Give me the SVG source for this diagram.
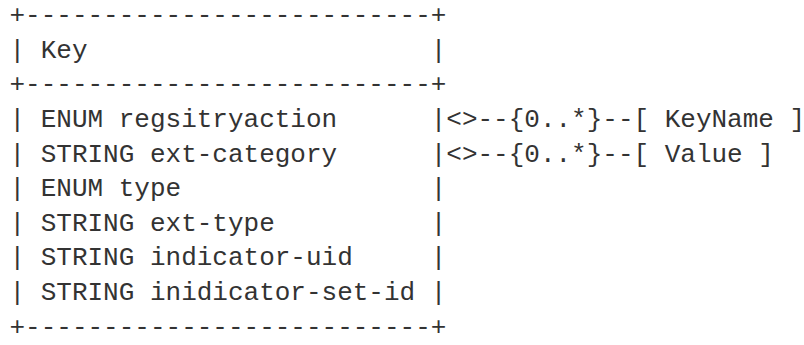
<svg xmlns="http://www.w3.org/2000/svg" width="804" height="345" viewBox="0 0 804 345">
<style>
text{font-family:"Liberation Mono","DejaVu Sans Mono",monospace;font-size:26px;fill:#333;white-space:pre}
</style>
<rect width="804" height="345" fill="#fff"/>
<g id="key">
<text x="9.5" y="23.2" xml:space="preserve">+--------------------------+</text>
<text x="9.5" y="57.8" xml:space="preserve">| Key                      |</text>
<text x="9.5" y="92.4" xml:space="preserve">+--------------------------+</text>
<text x="9.5" y="127" xml:space="preserve">| ENUM regsitryaction      |</text>
<text x="9.5" y="161.6" xml:space="preserve">| STRING ext-category      |</text>
<text x="9.5" y="196.2" xml:space="preserve">| ENUM type                |</text>
<text x="9.5" y="230.8" xml:space="preserve">| STRING ext-type          |</text>
<text x="9.5" y="265.4" xml:space="preserve">| STRING indicator-uid     |</text>
<text x="9.5" y="300" xml:space="preserve">| STRING inidicator-set-id |</text>
<text x="9.5" y="334.6" xml:space="preserve">+--------------------------+</text>
</g>
<g id="connectors">
<text x="446.3" y="127" xml:space="preserve">&lt;&gt;--{0..*}--</text>
<text x="446.3" y="161.6" xml:space="preserve">&lt;&gt;--{0..*}--</text>
</g>
<g id="keyname">
<text x="633.5" y="127" xml:space="preserve">[ KeyName ]</text>
</g>
<g id="value">
<text x="633.5" y="161.6" xml:space="preserve">[ Value ]</text>
</g>
</svg>
